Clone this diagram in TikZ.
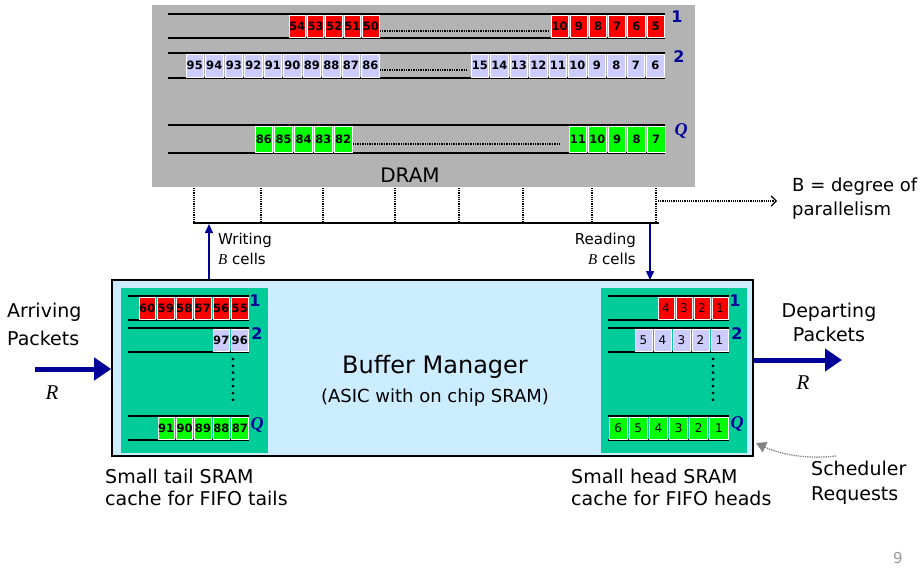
\documentclass[tikz,border=0pt]{standalone}
\usepackage{fontspec}
\setmainfont{DejaVu Sans}
\newfontfamily\serifit{Liberation Serif}
\usetikzlibrary{arrows.meta}
\definecolor{dramgray}{HTML}{B3B3B3}
\definecolor{cellred}{HTML}{FF0000}
\definecolor{lav}{HTML}{CCCCFF}
\definecolor{cellgreen}{HTML}{00FF00}
\definecolor{tealbox}{HTML}{00CC99}
\definecolor{lightblue}{HTML}{CCECFF}
\definecolor{navy}{HTML}{000099}
\definecolor{pagegray}{HTML}{999999}
\tikzset{
  qline/.style={line width=1.6pt},
  dotline/.style={densely dotted, line width=1.4pt},
  cellbox/.style={draw=white, line width=1pt, inner sep=0pt, text=black,
    font=\fontsize{11.5}{11.5}\selectfont\bfseries},
  headcell/.style={cellbox, font=\fontsize{12}{12}\selectfont},
  qnum/.style={text=navy, inner sep=0pt, font=\fontsize{16}{16}\selectfont\bfseries},
  qitalic/.style={text=navy, inner sep=0pt, font=\fontsize{18}{18}\selectfont\serifit\bfseries\itshape},
  maintext/.style={inner sep=0pt, font=\fontsize{19}{24}\selectfont},
  smalltext/.style={inner sep=0pt, font=\fontsize{15}{20}\selectfont},
  rlabel/.style={inner sep=0pt, font=\fontsize{21}{21}\selectfont\serifit\itshape},
  bigarrow/.style={draw=navy, line width=5pt, -{Triangle[length=17pt,width=22pt]}},
  smallarrow/.style={draw=navy, line width=1.5pt, -{Triangle[length=9pt,width=8pt]}},
  sram/.style={fill=tealbox, draw=none, inner sep=0pt},
  bustick/.style={densely dotted, line width=1.2pt},
}
\newcommand\cellrow[8]{%
  \foreach \n [count=\i from 0] in {#8}{%
    \node[#7, fill=#6, minimum width={#3-2}, minimum height=#5] (#1\i) at ({#2+(\i+0.5)*#3}, #4) {\n};}}
\begin{document}
\begin{tikzpicture}[x=1pt,y=-1pt]
\useasboundingbox (0,0) rectangle (922,573);
\fill[white] (0,0) rectangle (922,573);

% ---------------- DRAM ----------------
\node[fill=dramgray, inner sep=0pt, minimum width=543, minimum height=182] (dram) at (423.5,96) {};
\node[inner sep=0pt, font=\fontsize{20}{20}\selectfont] (dramlbl) at (410,175) {DRAM};

% row 1
\draw[qline] (168,14) -- (665,14);
\draw[qline] (168,38) -- (665,38);
\cellrow{da}{288}{18.4}{26}{22}{cellred}{cellbox}{54,53,52,51,50}
\draw[dotline] (da4.east |- 0,31) -- (548,31);
\cellrow{db}{550}{19.2}{26}{22}{cellred}{cellbox}{10,9,8,7,6,5}
\node[qnum] (d1) at (677,17) {1};
% row 2
\draw[qline] (168,53) -- (665,53);
\draw[qline] (168,78) -- (665,78);
\cellrow{dc}{185}{19.5}{65.5}{23}{lav}{cellbox}{95,94,93,92,91,90,89,88,87,86}
\draw[dotline] (dc9.east |- 0,70) -- (467,70);
\cellrow{dd}{470}{19.5}{65.5}{23}{lav}{cellbox}{15,14,13,12,11,10,9,8,7,6}
\node[qnum] (d2) at (679,57) {2};
% row Q
\draw[qline] (168,125) -- (665,125);
\draw[qline] (168,153) -- (665,153);
\cellrow{de}{254}{19.8}{139}{26}{cellgreen}{cellbox}{86,85,84,83,82}
\draw[dotline] (de4.east |- 0,144) -- (560,144);
\cellrow{df}{568}{19.6}{139}{26}{cellgreen}{cellbox}{11,10,9,8,7}
\node[qitalic] (dq) at (681,131) {Q};

% ---------------- bus ----------------
\foreach \bx [count=\k] in {194,261,323,395,459,523,592,656}{
  \coordinate (bt\k) at (\bx,188);
  \coordinate (bb\k) at (\bx,223);
  \draw[bustick] (bt\k) -- (bb\k);
}
\coordinate (busL) at (193,223);
\coordinate (busR) at (659,223);
\draw[line width=2.6pt] (busL) -- (busR);

% B = degree of parallelism
\coordinate (bpstart) at (658,201);
\coordinate (bpend) at (777,201);
\draw[densely dotted, line width=1.2pt, -{Straight Barb[length=5pt,width=10pt]}] (bpstart) -- (bpend);
\node[maintext, font=\fontsize{18}{24}\selectfont, align=left, anchor=west] (bpar) at (792,199) {B = degree of\\parallelism};

% ---------------- Buffer Manager ----------------
\node[fill=lightblue, draw=black, line width=1.6pt, inner sep=0pt, minimum width=641, minimum height=176] (bm) at (432.5,368) {};
\node[inner sep=0pt, align=center] (bmtext) at (435,381)
  {{\fontsize{24}{30}\selectfont Buffer Manager}\\[9pt]{\fontsize{18}{22}\selectfont (ASIC with on chip SRAM)}};

% write / read arrows
\coordinate (wbot) at (209,279);
\coordinate (wtop) at (209,224);
\draw[smallarrow] (wbot) -- (wtop);
\node[smalltext, align=left, anchor=west] (wlbl) at (218,249) {Writing\\{\serifit\itshape B} cells};
\coordinate (rtop) at (650,224);
\coordinate (rbot) at (650,280);
\draw[smallarrow] (rtop) -- (rbot);
\node[smalltext, align=right, anchor=east] (rlbl) at (636,249) {Reading\\{\serifit\itshape B} cells};

% ---------------- tail SRAM ----------------
\node[sram, minimum width=147, minimum height=165] (tail) at (194.5,370.5) {};
\draw[qline] (128,296) -- (249,296);
\draw[qline] (128,320) -- (249,320);
\cellrow{ta}{138}{18.5}{308}{22}{cellred}{cellbox}{60,59,58,57,56,55}
\node[qnum] (t1) at (255,301) {1};
\draw[qline] (128,328) -- (249,328);
\draw[qline] (128,352) -- (249,352);
\cellrow{tb}{212}{18.5}{340}{22}{lav}{cellbox}{97,96}
\node[qnum] (t2) at (257,334) {2};
\foreach \dy in {0,...,6}{\fill (233,{359+\dy*6.8}) circle (1.5);}
\draw[qline] (128,416) -- (249,416);
\draw[qline] (128,440) -- (249,440);
\cellrow{tc}{157}{18.4}{428}{22}{cellgreen}{cellbox}{91,90,89,88,87}
\node[qitalic] (tq) at (257,425) {Q};

% ---------------- head SRAM ----------------
\node[sram, minimum width=146, minimum height=165] (head) at (674,370.5) {};
\draw[qline] (608,296) -- (729,296);
\draw[qline] (608,320) -- (729,320);
\cellrow{ha}{657}{18}{308}{22}{cellred}{headcell}{4,3,2,1}
\node[qnum] (h1) at (735,301) {1};
\draw[qline] (608,328) -- (729,328);
\draw[qline] (608,352) -- (729,352);
\cellrow{hb}{634}{19}{340}{22}{lav}{headcell}{5,4,3,2,1}
\node[qnum] (h2) at (737,334) {2};
\foreach \dy in {0,...,6}{\fill (713,{359+\dy*6.8}) circle (1.5);}
\draw[qline] (608,416) -- (729,416);
\draw[qline] (608,440) -- (729,440);
\cellrow{hc}{608}{20.17}{428}{22}{cellgreen}{headcell}{6,5,4,3,2,1}
\node[qitalic] (hq) at (737,424) {Q};

% ---------------- arriving / departing ----------------
\node[maintext, font=\fontsize{19}{28}\selectfont, align=left, anchor=west] (arr) at (7,324) {Arriving\\Packets};
\coordinate (arrstart) at (35,369);
\draw[bigarrow] (arrstart) -- (bm.west |- arrstart);
\node[rlabel] (rin) at (52,393) {R};

\node[maintext, align=center] (dep) at (829,322) {Departing\\Packets};
\coordinate (depend) at (842,360);
\draw[bigarrow] (bm.east |- depend) -- (depend);
\node[rlabel] (rout) at (803,383) {R};

% ---------------- captions ----------------
\node[maintext, font=\fontsize{19}{22}\selectfont, align=left, anchor=west] (tailcap) at (105,487) {Small tail SRAM\\cache for FIFO tails};
\node[maintext, font=\fontsize{19}{22}\selectfont, align=left, anchor=west] (headcap) at (571,487) {Small head SRAM\\cache for FIFO heads};
\node[maintext, font=\fontsize{19}{25}\selectfont, align=left, anchor=west] (sched) at (811,483) {Scheduler\\Requests};
\coordinate (schedstart) at (836,456);
\coordinate (schedend) at (756,443);
\draw[pagegray!85!black, densely dotted, line width=1.3pt, -{Triangle[length=10pt,width=11pt]}]
  (schedstart) .. controls (812,459) and (784,456) .. (schedend);

\node[inner sep=0pt, text=pagegray, font=\fontsize{15}{15}\selectfont] (pnum) at (898,558) {9};
\end{tikzpicture}
\end{document}
